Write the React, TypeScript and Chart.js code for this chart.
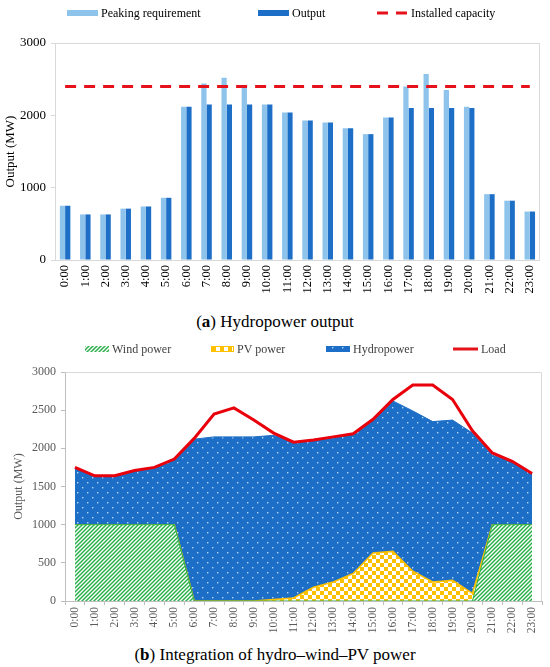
import React, { useEffect, useRef } from "react";
import { Chart, registerables } from "chart.js";

Chart.register(...registerables);

// ---------- data ----------
const hours = [
  "0:00", "1:00", "2:00", "3:00", "4:00", "5:00", "6:00", "7:00", "8:00", "9:00", "10:00", "11:00",
  "12:00", "13:00", "14:00", "15:00", "16:00", "17:00", "18:00", "19:00", "20:00", "21:00", "22:00", "23:00",
];
const peakingRequirement = [750, 630, 630, 710, 740, 860, 2120, 2440, 2520, 2380, 2150, 2040, 1930, 1900, 1820, 1740, 1970, 2400, 2570, 2350, 2120, 910, 820, 670];
const hydroOutput = [750, 630, 630, 710, 740, 860, 2120, 2150, 2150, 2150, 2150, 2040, 1930, 1900, 1820, 1740, 1970, 2100, 2100, 2100, 2100, 910, 820, 670];
const installedCapacity = [2400, 2400, 2400, 2400, 2400, 2400, 2400, 2400, 2400, 2400, 2400, 2400, 2400, 2400, 2400, 2400, 2400, 2400, 2400, 2400, 2400, 2400, 2400, 2400];
const windPower = [1000, 1000, 1000, 1000, 1000, 1000, 0, 0, 0, 0, 0, 0, 0, 0, 0, 0, 0, 0, 0, 0, 0, 1000, 1000, 1000];
const pvPower = [0, 0, 0, 0, 0, 0, 0, 0, 0, 0, 20, 40, 180, 250, 360, 630, 650, 390, 250, 270, 100, 0, 0, 0];
const loadValues = [1750, 1640, 1640, 1710, 1750, 1860, 2130, 2450, 2530, 2370, 2200, 2080, 2110, 2150, 2190, 2380, 2640, 2830, 2830, 2640, 2230, 1940, 1830, 1670];
const topYTicks = [0, 1000, 2000, 3000];
const bottomYTicks = [0, 500, 1000, 1500, 2000, 2500, 3000];
const topNames = ["Peaking requirement", "Output", "Installed capacity"];
const bottomNames = ["Wind power", "PV power", "Hydropower", "Load"];

// ---------- styles ----------
const SERIF = '"Liberation Serif", "Times New Roman", serif';
const LIGHT_BLUE = "#8EC3EC";
const BLUE = "#1D6EC6";
const RED = "#E5121B";
const GREEN = "#2BB04A";
const YELLOW = "#FFC000";
const FRAME = "#D9D9D9";

function makeWindPattern(): CanvasPattern | string {
  const c = document.createElement("canvas");
  c.width = 4; c.height = 4;
  const g = c.getContext("2d")!;
  g.fillStyle = "#ffffff"; g.fillRect(0, 0, 4, 4);
  g.strokeStyle = GREEN; g.lineWidth = 1.5;
  g.beginPath();
  g.moveTo(-1, 5); g.lineTo(5, -1);
  g.moveTo(-1, 1); g.lineTo(1, -1);
  g.moveTo(3, 5); g.lineTo(5, 3);
  g.stroke();
  return g.createPattern(c, "repeat") || GREEN;
}
function makeCheckerPattern(): CanvasPattern | string {
  const c = document.createElement("canvas");
  c.width = 8; c.height = 8;
  const g = c.getContext("2d")!;
  g.fillStyle = "#ffffff"; g.fillRect(0, 0, 8, 8);
  g.fillStyle = YELLOW; g.fillRect(0, 0, 4, 4); g.fillRect(4, 4, 4, 4);
  return g.createPattern(c, "repeat") || YELLOW;
}
function makeDotPattern(): CanvasPattern | string {
  const c = document.createElement("canvas");
  c.width = 10; c.height = 10;
  const g = c.getContext("2d")!;
  g.fillStyle = BLUE; g.fillRect(0, 0, 10, 10);
  g.fillStyle = "rgba(190,220,255,0.95)";
  g.fillRect(2, 2, 1.4, 1.4); g.fillRect(7, 7, 1.4, 1.4);
  return g.createPattern(c, "repeat") || BLUE;
}

type LegendEntry = {
  x: number; w: number; text: string;
  paint: (ctx: CanvasRenderingContext2D, x: number, y: number, w: number) => void;
};
function legendPlugin(id: string, items: LegendEntry[], y: number, font: string, color: string) {
  return {
    id,
    afterDraw(chart: any) {
      const ctx: CanvasRenderingContext2D = chart.ctx;
      ctx.save();
      items.forEach((it) => {
        ctx.save();
        it.paint(ctx, it.x, y, it.w);
        ctx.restore();
        ctx.font = font;
        ctx.fillStyle = color;
        ctx.textBaseline = "middle";
        ctx.textAlign = "left";
        ctx.fillText(it.text, it.x + it.w + 3, y + 0.5);
      });
      ctx.restore();
    },
  };
}
const framePlugin = {
  id: "frame",
  beforeDatasetsDraw(chart: any) {
    const { ctx, chartArea } = chart;
    const { left, top, right, bottom } = chartArea;
    ctx.save();
    ctx.strokeStyle = FRAME;
    ctx.lineWidth = 1;
    ctx.beginPath();
    ctx.moveTo(Math.round(left) + 0.5, Math.round(top) + 0.5);
    ctx.lineTo(Math.round(right) - 0.5, Math.round(top) + 0.5);
    ctx.lineTo(Math.round(right) - 0.5, Math.round(bottom));
    ctx.stroke();
    ctx.restore();
  },
};
const plainNumber = (v: any) => String(v);

export default function App() {
  const topRef = useRef<HTMLCanvasElement>(null);
  const botRef = useRef<HTMLCanvasElement>(null);

  useEffect(() => {
    const wind = makeWindPattern();
    const checker = makeCheckerPattern();
    const dots = makeDotPattern();

    const topLegend: LegendEntry[] = [
      { x: 67, w: 31, text: topNames[0], paint: (c, x, y, w) => { c.fillStyle = LIGHT_BLUE; c.fillRect(x, y - 3, w, 6); } },
      { x: 258, w: 31, text: topNames[1], paint: (c, x, y, w) => { c.fillStyle = BLUE; c.fillRect(x, y - 3, w, 6); } },
      { x: 377, w: 31, text: topNames[2], paint: (c, x, y, w) => {
        c.strokeStyle = RED; c.lineWidth = 3; c.setLineDash([11, 8]);
        c.beginPath(); c.moveTo(x, y); c.lineTo(x + w, y); c.stroke();
      } },
    ];
    const bottomLegend: LegendEntry[] = [
      { x: 85, w: 24, text: bottomNames[0], paint: (c, x, y, w) => { c.fillStyle = wind as any; c.fillRect(x, y - 3, w, 6); } },
      { x: 211, w: 23, text: bottomNames[1], paint: (c, x, y, w) => {
        c.fillStyle = checker as any; c.fillRect(x, y - 3, w, 6);
        c.strokeStyle = YELLOW; c.lineWidth = 1; c.strokeRect(x + 0.5, y - 2.5, w - 1, 5);
      } },
      { x: 326, w: 24, text: bottomNames[2], paint: (c, x, y, w) => { c.fillStyle = dots as any; c.fillRect(x, y - 3, w, 6); } },
      { x: 453, w: 25, text: bottomNames[3], paint: (c, x, y, w) => {
        c.strokeStyle = RED; c.lineWidth = 3; c.beginPath(); c.moveTo(x, y); c.lineTo(x + w, y); c.stroke();
      } },
    ];

    const top = new Chart(topRef.current!, {
      type: "bar",
      data: {
        labels: hours,
        datasets: [
          {
            type: "line",
            label: topNames[2],
            data: installedCapacity,
            borderColor: RED,
            borderWidth: 3,
            borderDash: [11, 8],
            pointRadius: 0,
            fill: false,
            order: 0,
          } as any,
          {
            label: topNames[0],
            data: peakingRequirement,
            backgroundColor: LIGHT_BLUE,
            categoryPercentage: 0.52,
            barPercentage: 1,
            order: 1,
          },
          {
            label: topNames[1],
            data: hydroOutput,
            backgroundColor: BLUE,
            categoryPercentage: 0.52,
            barPercentage: 1,
            order: 1,
          },
        ],
      },
      options: {
        animation: false,
        responsive: false,
        events: [],
        layout: { padding: { left: 3, right: 10, top: 43, bottom: 0 } },
        plugins: { legend: { display: false }, tooltip: { enabled: false } },
        scales: {
          x: {
            grid: { drawOnChartArea: false, drawTicks: false, color: FRAME },
            border: { color: FRAME },
            ticks: {
              color: "#000", font: { family: SERIF, size: 12.5 },
              minRotation: 90, maxRotation: 90, autoSkip: false, padding: 5,
            },
            afterFit: (s: any) => { s.height = 45; },
          },
          y: {
            min: 0, max: 3000,
            afterBuildTicks: (s: any) => { s.ticks = topYTicks.map((v) => ({ value: v })); },
            ticks: { color: "#000", font: { family: SERIF, size: 13 }, padding: 5, callback: plainNumber },
            grid: { drawOnChartArea: false, drawTicks: true, tickLength: 4, color: FRAME },
            border: { color: FRAME },
            title: { display: true, text: "Output (MW)", color: "#000", font: { family: SERIF, size: 13 }, padding: 0 },
            afterFit: (s: any) => { s.width = 52; },
          },
        },
      },
      plugins: [framePlugin, legendPlugin("topLegend", topLegend, 13, `12px ${SERIF}`, "#000")],
    });

    const bottom = new Chart(botRef.current!, {
      type: "line",
      data: {
        labels: hours,
        datasets: [
          {
            label: bottomNames[0], data: windPower, backgroundColor: wind as any, borderColor: GREEN,
            borderWidth: 1, pointRadius: 0, fill: "origin", order: 1, stack: "gen",
          },
          {
            label: bottomNames[1], data: pvPower, backgroundColor: checker as any, borderColor: YELLOW,
            borderWidth: 1.5, pointRadius: 0, fill: "-1", order: 1, stack: "gen",
          },
          {
            label: bottomNames[2], data: hydroOutput, backgroundColor: dots as any, borderColor: BLUE,
            borderWidth: 1, pointRadius: 0, fill: "-1", order: 1, stack: "gen",
          },
          {
            label: bottomNames[3], data: loadValues, borderColor: "#E8000B", borderWidth: 3,
            pointRadius: 0, fill: false, order: 0, stack: "load",
          },
        ],
      },
      options: {
        animation: false,
        responsive: false,
        events: [],
        layout: { padding: { left: 4, right: 8, top: 37, bottom: 0 } },
        plugins: { legend: { display: false }, tooltip: { enabled: false } },
        scales: {
          x: {
            offset: true,
            grid: { offset: true, drawOnChartArea: false, drawTicks: true, tickLength: 4, color: "#BFBFBF" },
            border: { color: "#BFBFBF" },
            ticks: {
              color: "#595959", font: { family: SERIF, size: 11.5 },
              minRotation: 90, maxRotation: 90, autoSkip: false, padding: 2,
            },
            afterFit: (s: any) => { s.height = 44; },
          },
          y: {
            stacked: true,
            min: 0, max: 3000,
            afterBuildTicks: (s: any) => { s.ticks = bottomYTicks.map((v) => ({ value: v })); },
            ticks: { color: "#595959", font: { family: SERIF, size: 12 }, padding: 5, callback: plainNumber },
            grid: { drawOnChartArea: false, drawTicks: true, tickLength: 4, color: "#BFBFBF" },
            border: { color: "#BFBFBF" },
            title: { display: true, text: "Output (MW)", color: "#595959", font: { family: SERIF, size: 12 }, padding: { top: 8, bottom: 0 } },
            afterFit: (s: any) => { s.width = 61; },
          },
        },
      },
      plugins: [framePlugin, legendPlugin("bottomLegend", bottomLegend, 14, `12px ${SERIF}`, "#404040")],
    });

    return () => {
      top.destroy();
      bottom.destroy();
    };
  }, []);

  const captionStyle: React.CSSProperties = {
    position: "absolute", left: 0, width: 550, height: 20, lineHeight: "20px",
    textAlign: "center", fontFamily: SERIF, fontSize: 17, color: "#000",
  };

  return (
    <div style={{ position: "absolute", left: 0, top: 0, width: 550, height: 667, background: "#fff", overflow: "hidden" }}>
      <div style={{ position: "absolute", left: 0, top: 0, width: 550, height: 305 }}>
        <canvas ref={topRef} width={550} height={305} style={{ width: 550, height: 305, display: "block" }} />
      </div>
      <div style={{ ...captionStyle, top: 312 }}>(<b>a</b>) Hydropower output</div>
      <div style={{ position: "absolute", left: 0, top: 335, width: 550, height: 310 }}>
        <canvas ref={botRef} width={550} height={310} style={{ width: 550, height: 310, display: "block" }} />
      </div>
      <div style={{ ...captionStyle, top: 645 }}>(<b>b</b>) Integration of hydro–wind–PV power</div>
    </div>
  );
}
